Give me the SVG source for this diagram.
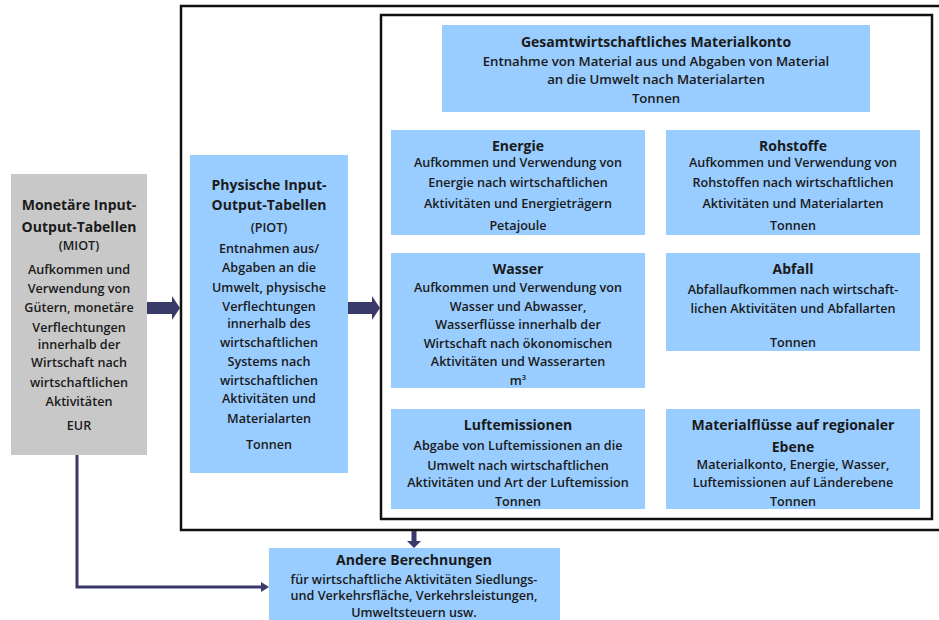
<svg xmlns="http://www.w3.org/2000/svg" width="939" height="620" viewBox="0 0 939 620">
<style>
.box{fill:#99CCFF}
.grey{fill:#C8C8C8}
.frame{fill:none;stroke:#111;stroke-width:2.5}
.t{font-family:"Open Sans","Liberation Sans",sans-serif;font-weight:700;font-size:14px;text-anchor:middle;fill:#1a1a1a}
.b{font-family:"Open Sans","Liberation Sans",sans-serif;font-weight:600;font-size:12.6px;text-anchor:middle;fill:#1a1a1a}
.bl{font-size:13.2px}
.arr{fill:#3A3A6A}
.ln{fill:none;stroke:#3A3A6A;stroke-width:3}
</style>
<rect width="939" height="620" fill="#fff"/>
<g id="frames">
<path class="frame" d="M945 6 H181 V530 H945"/>
<rect class="frame" x="381" y="15" width="551" height="504"/>
</g>
<g id="connectors">
<polygon class="arr" points="147,302 172,302 172,296 180,308 172,320 172,314 147,314"/>
<polygon class="arr" points="348,302 372,302 372,296 380,308 372,320 372,314 348,314"/>
<polygon class="arr" points="411.5,531 416.5,531 416.5,541 421,541 414,548 407,541 411.5,541"/>
<path class="ln" d="M77 455 V587 H262"/>
<polygon class="arr" points="261,582 269,587 261,592"/>
</g>
<g id="miot">
<rect class="grey" x="11" y="174" width="136" height="281"/>
<text class="t" x="79" y="210">Monetäre Input-</text>
<text class="t" x="79" y="232">Output-Tabellen</text>
<text class="b" x="79" y="250">(MIOT)</text>
<text class="b" x="79" y="274">Aufkommen und</text>
<text class="b" x="79" y="293">Verwendung von</text>
<text class="b" x="79" y="312">Gütern, monetäre</text>
<text class="b" x="79" y="332">Verflechtungen</text>
<text class="b" x="79" y="349">innerhalb der</text>
<text class="b" x="79" y="367">Wirtschaft nach</text>
<text class="b" x="79" y="387">wirtschaftlichen</text>
<text class="b" x="79" y="406">Aktivitäten</text>
<text class="b" x="79" y="430">EUR</text>
</g>
<g id="piot">
<rect class="box" x="190" y="155" width="158" height="318"/>
<text class="t" x="269" y="190">Physische Input-</text>
<text class="t" x="269" y="210">Output-Tabellen</text>
<text class="b" x="269" y="232">(PIOT)</text>
<text class="b" x="269" y="253">Entnahmen aus/</text>
<text class="b" x="269" y="272">Abgaben an die</text>
<text class="b" x="269" y="292">Umwelt, physische</text>
<text class="b" x="269" y="311">Verflechtungen</text>
<text class="b" x="269" y="328">innerhalb des</text>
<text class="b" x="269" y="347">wirtschaftlichen</text>
<text class="b" x="269" y="366">Systems nach</text>
<text class="b" x="269" y="385">wirtschaftlichen</text>
<text class="b" x="269" y="403">Aktivitäten und</text>
<text class="b" x="269" y="423">Materialarten</text>
<text class="b" x="269" y="449">Tonnen</text>
</g>
<g id="gesamt">
<rect class="box" x="442" y="25" width="428" height="87"/>
<text class="t" x="656" y="47">Gesamtwirtschaftliches Materialkonto</text>
<text class="b bl" x="656" y="66">Entnahme von Material aus und Abgaben von Material</text>
<text class="b bl" x="656" y="84">an die Umwelt nach Materialarten</text>
<text class="b bl" x="656" y="103">Tonnen</text>
</g>
<g id="energie">
<rect class="box" x="391" y="130" width="254" height="105"/>
<text class="t" x="518" y="151">Energie</text>
<text class="b" x="518" y="167">Aufkommen und Verwendung von</text>
<text class="b" x="518" y="187">Energie nach wirtschaftlichen</text>
<text class="b" x="518" y="208">Aktivitäten und Energieträgern</text>
<text class="b" x="518" y="230">Petajoule</text>
</g>
<g id="rohstoffe">
<rect class="box" x="666" y="130" width="254" height="105"/>
<text class="t" x="793" y="151">Rohstoffe</text>
<text class="b" x="793" y="167">Aufkommen und Verwendung von</text>
<text class="b" x="793" y="187">Rohstoffen nach wirtschaftlichen</text>
<text class="b" x="793" y="208">Aktivitäten und Materialarten</text>
<text class="b" x="793" y="230">Tonnen</text>
</g>
<g id="wasser">
<rect class="box" x="391" y="253" width="254" height="135"/>
<text class="t" x="518" y="274">Wasser</text>
<text class="b" x="518" y="292">Aufkommen und Verwendung von</text>
<text class="b" x="518" y="311">Wasser und Abwasser,</text>
<text class="b" x="518" y="329">Wasserflüsse innerhalb der</text>
<text class="b" x="518" y="348">Wirtschaft nach ökonomischen</text>
<text class="b" x="518" y="366">Aktivitäten und Wasserarten</text>
<text class="b" x="518" y="385">m<tspan font-size="7.5" dy="-5">3</tspan></text>
</g>
<g id="abfall">
<rect class="box" x="666" y="253" width="254" height="98"/>
<text class="t" x="793" y="274">Abfall</text>
<text class="b" x="793" y="294">Abfallaufkommen nach wirtschaft-</text>
<text class="b" x="793" y="313">lichen Aktivitäten und Abfallarten</text>
<text class="b" x="793" y="347">Tonnen</text>
</g>
<g id="luft">
<rect class="box" x="391" y="409" width="254" height="100"/>
<text class="t" x="518" y="430">Luftemissionen</text>
<text class="b" x="518" y="450">Abgabe von Luftemissionen an die</text>
<text class="b" x="518" y="470">Umwelt nach wirtschaftlichen</text>
<text class="b" x="518" y="487">Aktivitäten und Art der Luftemission</text>
<text class="b" x="518" y="506">Tonnen</text>
</g>
<g id="regional">
<rect class="box" x="666" y="409" width="254" height="100"/>
<text class="t" x="793" y="430">Materialflüsse auf regionaler</text>
<text class="t" x="793" y="452">Ebene</text>
<text class="b" x="793" y="469">Materialkonto, Energie, Wasser,</text>
<text class="b" x="793" y="487">Luftemissionen auf Länderebene</text>
<text class="b" x="793" y="506">Tonnen</text>
</g>
<g id="andere">
<rect class="box" x="269" y="548" width="291" height="80"/>
<text class="t" x="414" y="565">Andere Berechnungen</text>
<text class="b" x="414" y="584">für wirtschaftliche Aktivitäten Siedlungs-</text>
<text class="b" x="414" y="600">und Verkehrsfläche, Verkehrsleistungen,</text>
<text class="b" x="414" y="617">Umweltsteuern usw.</text>
</g>
</svg>
